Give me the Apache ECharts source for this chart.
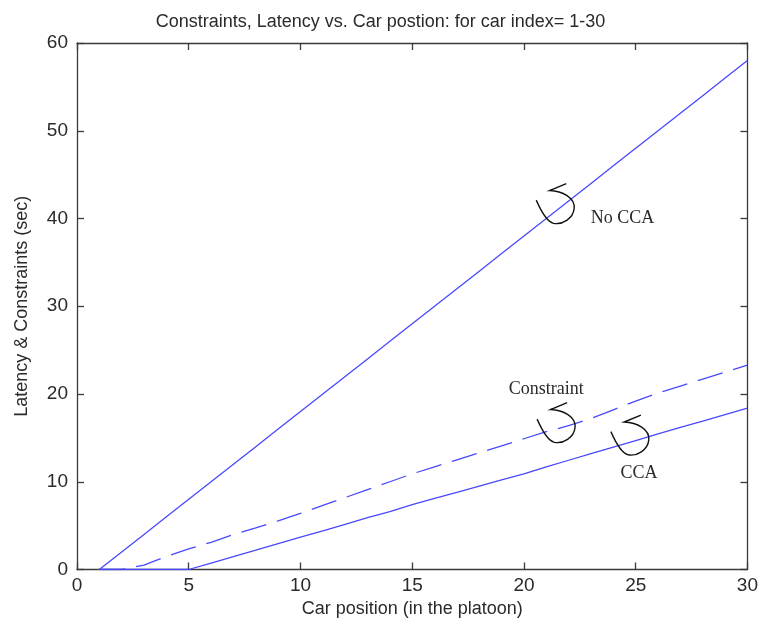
<!DOCTYPE html>
<html>
<head>
<meta charset="utf-8">
<script src="https://cdn.jsdelivr.net/npm/echarts@6/dist/echarts.min.js"></script>
<style>
  html, body { margin: 0; padding: 0; background: #fff; }
  #chart { width: 761px; height: 625px; }
</style>
</head>
<body>
<div id="chart"></div>
<script>
// Car index in the platoon
const carPositions = [1, 2, 3, 4, 5, 6, 7, 8, 9, 10, 11, 12, 13, 14, 15,
                      16, 17, 18, 19, 20, 21, 22, 23, 24, 25, 26, 27, 28, 29, 30];
// Latency without cooperative collision avoidance (sec)
const noCcaLatency = [0, 2, 4, 6, 8, 10, 12, 14, 16, 18, 20, 22, 24, 26, 28,
                      30, 32, 34, 36, 38, 40, 42, 44, 46, 48, 50, 52, 54, 56, 58];
// Timing constraint (sec)
const constraintValues = [0, 0, 0.5, 1.5, 2.35, 3.1, 4.0, 4.75, 5.55, 6.4, 7.3, 8.2, 9.1, 10.0, 10.9,
                          11.7, 12.5, 13.3, 14.1, 14.9, 15.7, 16.4, 17.2, 18.2, 19.2, 20.1, 20.9, 21.7, 22.5, 23.3];
// Latency with CCA (sec)
const ccaLatency = [0, 0, 0, 0, 0, 0.74, 1.47, 2.2, 2.95, 3.7, 4.4, 5.15, 5.9, 6.6, 7.4,
                    8.1, 8.8, 9.5, 10.2, 10.9, 11.7, 12.45, 13.2, 13.95, 14.7, 15.45, 16.2, 16.9, 17.65, 18.4];

const xTicks = [0, 5, 10, 15, 20, 25, 30];
const yTicks = [0, 10, 20, 30, 40, 50, 60];

const pairs = (ys) => carPositions.map((x, i) => [x, ys[i]]);

const lineBlue = '#4848ff';
const axisColor = '#3a3a3a';
const textColor = '#2a2a2a';

// Hand-drawn curl arrow used to point from a label to its curve
const curlArrow = 'path://M27.7 0 L12.4 6.7 C24 7 36 14 35 24 C34 34 24 40 16 38.5 C10 37 5 28 0 16';

function arrowMark(coord) {
  return {
    coord: coord,
    symbol: curlArrow,
    symbolSize: [38, 40],
    symbolKeepAspect: false,
    itemStyle: { color: 'transparent', borderColor: '#111', borderWidth: 1.4 },
    label: { show: false }
  };
}
function textMark(coord, text) {
  return {
    coord: coord,
    symbol: 'circle',
    symbolSize: 0,
    itemStyle: { color: 'transparent' },
    label: {
      show: true, position: 'inside', formatter: text,
      fontFamily: '"Liberation Serif", "Times New Roman", serif',
      fontSize: 18, color: textColor
    }
  };
}

const chart = echarts.init(document.getElementById('chart'), null, { renderer: 'canvas' });

const sideAxis = {
  axisLine: { show: true, onZero: false, lineStyle: { color: axisColor, width: 1.3 } },
  axisTick: { show: true, inside: true, length: 7, lineStyle: { color: axisColor, width: 1.3 } },
  splitLine: { show: false }
};

chart.setOption({
  animation: false,
  backgroundColor: '#fff',
  title: {
    text: 'Constraints, Latency vs. Car postion: for car index= 1-30',
    left: 'center',
    top: 8,
    textStyle: {
      fontFamily: '"Liberation Sans", Arial, sans-serif',
      fontSize: 18, fontWeight: 'normal', color: textColor
    }
  },
  grid: { left: 77, right: 13, top: 43, bottom: 55.5, containLabel: false },
  xAxis: [
    Object.assign({}, sideAxis, {
      type: 'value', min: xTicks[0], max: xTicks[xTicks.length - 1], interval: 5,
      position: 'bottom',
      name: 'Car position (in the platoon)',
      nameLocation: 'middle', nameGap: 29,
      nameTextStyle: { fontFamily: '"Liberation Sans", Arial, sans-serif', fontSize: 18, color: textColor },
      axisLabel: { margin: 7, fontFamily: '"Liberation Sans", Arial, sans-serif', fontSize: 19, color: textColor }
    }),
    Object.assign({}, sideAxis, {
      type: 'value', min: xTicks[0], max: xTicks[xTicks.length - 1], interval: 5,
      position: 'top', axisLabel: { show: false }
    })
  ],
  yAxis: [
    Object.assign({}, sideAxis, {
      type: 'value', min: yTicks[0], max: yTicks[yTicks.length - 1], interval: 10,
      position: 'left',
      name: 'Latency & Constraints (sec)',
      nameLocation: 'middle', nameGap: 46,
      nameTextStyle: { fontFamily: '"Liberation Sans", Arial, sans-serif', fontSize: 18, color: textColor },
      axisLabel: { margin: 9, fontFamily: '"Liberation Sans", Arial, sans-serif', fontSize: 19, color: textColor }
    }),
    Object.assign({}, sideAxis, {
      type: 'value', min: yTicks[0], max: yTicks[yTicks.length - 1], interval: 10,
      position: 'right', axisLabel: { show: false }
    })
  ],
  series: [
    {
      name: 'No CCA', type: 'line', xAxisIndex: 0, yAxisIndex: 0,
      data: pairs(noCcaLatency), showSymbol: false, symbol: 'none',
      lineStyle: { color: lineBlue, width: 1.3 },
      markPoint: {
        animation: false,
        data: [arrowMark([21.4, 41.7]), textMark([24.41, 40.0], 'No CCA')]
      }
    },
    {
      name: 'Constraint', type: 'line', xAxisIndex: 0, yAxisIndex: 0,
      data: pairs(constraintValues), showSymbol: false, symbol: 'none',
      lineStyle: { color: lineBlue, width: 1.3, type: [26, 11] },
      markPoint: {
        animation: false,
        data: [arrowMark([21.44, 16.74]), textMark([21.0, 20.52], 'Constraint')]
      }
    },
    {
      name: 'CCA', type: 'line', xAxisIndex: 0, yAxisIndex: 0,
      data: pairs(ccaLatency), showSymbol: false, symbol: 'none',
      lineStyle: { color: lineBlue, width: 1.3 },
      markPoint: {
        animation: false,
        data: [arrowMark([24.74, 15.32]), textMark([25.15, 10.96], 'CCA')]
      }
    }
  ]
});
</script>
</body>
</html>
